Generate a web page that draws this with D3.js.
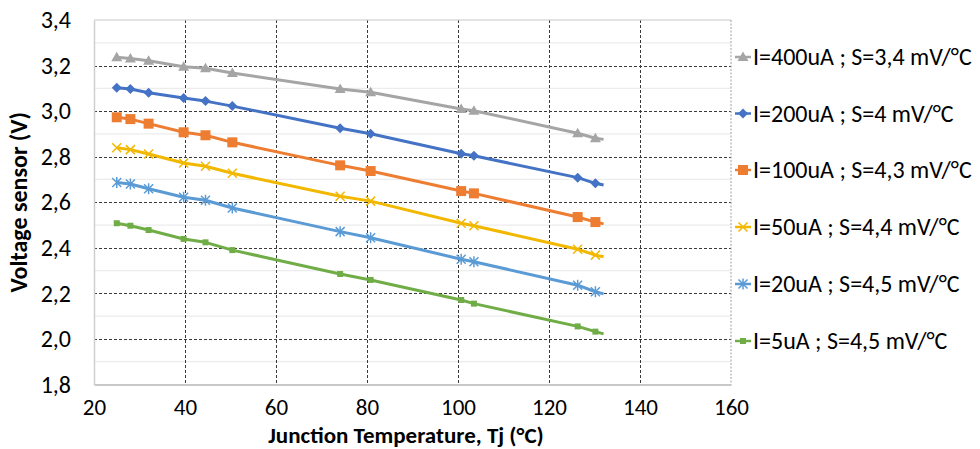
<!DOCTYPE html>
<html>
<head>
<meta charset="utf-8">
<script src="https://cdn.jsdelivr.net/npm/d3@7"></script>
<style>
  html, body { margin: 0; padding: 0; background: #fff; }
  svg { display: block; }
  text { font-family: Carlito, Lato, "Open Sans", sans-serif; fill: #000; }
</style>
</head>
<body>
<svg id="chart" width="980" height="449"></svg>
<script>
// ---- Data ----
// Junction temperatures (°C); the last value is where each drawn line ends (no marker there)
const temps = [25, 28, 32, 39.7, 44.5, 50.4, 74.1, 80.8, 100.7, 103.5, 126.3, 130.2, 132];
const markedPoints = 12;

const seriesNames = [
  "I=400uA ; S=3,4 mV/°C",
  "I=200uA ; S=4 mV/°C",
  "I=100uA ; S=4,3 mV/°C",
  "I=50uA ; S=4,4 mV/°C",
  "I=20uA ; S=4,5 mV/°C",
  "I=5uA ; S=4,5 mV/°C"
];
const v400 = [3.236, 3.231, 3.221, 3.195, 3.188, 3.167, 3.097, 3.083, 3.009, 3.002, 2.903, 2.881, 2.876];
const v200 = [3.103, 3.097, 3.081, 3.058, 3.044, 3.022, 2.925, 2.901, 2.813, 2.804, 2.708, 2.683, 2.676];
const v100 = [2.973, 2.965, 2.945, 2.907, 2.894, 2.863, 2.762, 2.737, 2.649, 2.639, 2.535, 2.513, 2.505];
const v50  = [2.839, 2.831, 2.812, 2.772, 2.758, 2.727, 2.626, 2.605, 2.508, 2.497, 2.394, 2.368, 2.361];
const v20  = [2.687, 2.680, 2.659, 2.622, 2.609, 2.575, 2.471, 2.444, 2.350, 2.339, 2.236, 2.207, 2.198];
const v5   = [2.508, 2.497, 2.478, 2.439, 2.424, 2.390, 2.285, 2.259, 2.171, 2.155, 2.055, 2.032, 2.022];
const seriesValues = [v400, v200, v100, v50, v20, v5];

const xTicks = [20, 40, 60, 80, 100, 120, 140, 160];
const yTicks = [1.8, 2.0, 2.2, 2.4, 2.6, 2.8, 3.0, 3.2, 3.4];
const yMinorTicks = [1.9, 2.1, 2.3, 2.5, 2.7, 2.9, 3.1, 3.3];
const xTitle = "Junction Temperature, Tj (°C)";
const yTitle = "Voltage sensor (V)";

// ---- Style ----
const colors = ["#A5A5A5", "#4472C4", "#ED7D31", "#F2B800", "#5B9BD5", "#70AD47"];
const markerTypes = ["triangle", "diamond", "square", "x", "asterisk", "smallsquare"];

const svg = d3.select("#chart");
const plot = { left: 94, right: 731, top: 20, bottom: 384.5 };

const x = d3.scaleLinear().domain([20, 160]).range([plot.left, plot.right]);
const y = d3.scaleLinear().domain([1.8, 3.4]).range([plot.bottom, plot.top]);

const fmt = d => d3.format(".1f")(d).replace(".", ",");

// minor horizontal gridlines
svg.append("g").selectAll("line").data(yMinorTicks).join("line")
  .attr("x1", plot.left).attr("x2", plot.right)
  .attr("y1", d => y(d)).attr("y2", d => y(d))
  .attr("stroke", "#ececec").attr("stroke-width", 1.2);

// major horizontal dashed gridlines
svg.append("g").selectAll("line").data(yTicks.filter(d => d > 1.8 && d < 3.4)).join("line")
  .attr("x1", plot.left).attr("x2", plot.right)
  .attr("y1", d => Math.round(y(d)) + 0.5).attr("y2", d => Math.round(y(d)) + 0.5)
  .attr("stroke", "#3a3a3a").attr("stroke-width", 1).attr("stroke-dasharray", "3,2");

// vertical dashed gridlines
svg.append("g").selectAll("line").data(xTicks.filter(d => d > 20 && d < 160)).join("line")
  .attr("x1", d => Math.round(x(d)) + 0.5).attr("x2", d => Math.round(x(d)) + 0.5)
  .attr("y1", plot.top).attr("y2", plot.bottom)
  .attr("stroke", "#3a3a3a").attr("stroke-width", 1).attr("stroke-dasharray", "3,2");

// top border & right border
svg.append("line").attr("x1", plot.left).attr("x2", plot.right)
  .attr("y1", y(3.4)).attr("y2", y(3.4)).attr("stroke", "#c8c8c8").attr("stroke-width", 1.2);
svg.append("line").attr("x1", x(160)).attr("x2", x(160))
  .attr("y1", plot.top).attr("y2", plot.bottom)
  .attr("stroke", "#a0a0a0").attr("stroke-width", 1).attr("stroke-dasharray", "2,1.5");

// axes
const xAxis = svg.append("g").attr("transform", `translate(0,${plot.bottom})`)
  .call(d3.axisBottom(x).tickValues(xTicks).tickSize(0).tickPadding(14).tickFormat(d3.format("d")));
xAxis.select(".domain").attr("stroke", "#c8c8c8").attr("stroke-width", 2);
xAxis.selectAll("text").style("font-size", "23px");

const yAxis = svg.append("g").attr("transform", `translate(${plot.left},0)`)
  .call(d3.axisLeft(y).tickValues(yTicks).tickSize(0).tickPadding(23).tickFormat(fmt));
yAxis.select(".domain").attr("stroke", "#d0d0d0").attr("stroke-width", 1.5);
yAxis.selectAll("text").style("font-size", "24px");

// axis titles
svg.append("text").attr("x", 406).attr("y", 443).attr("text-anchor", "middle")
  .style("font-size", "23px").style("font-weight", "bold").text(xTitle);
svg.append("text").attr("transform", `translate(27,${(plot.top + plot.bottom) / 2}) rotate(-90)`)
  .attr("text-anchor", "middle").style("font-size", "24px").style("font-weight", "bold").text(yTitle);

// marker drawing
function drawMarker(g, type, color) {
  if (type === "triangle") {
    g.append("path").attr("d", "M0,-5.5L5.5,4L-5.5,4Z").attr("fill", color);
  } else if (type === "diamond") {
    g.append("path").attr("d", "M0,-5L5,0L0,5L-5,0Z").attr("fill", color);
  } else if (type === "square") {
    g.append("rect").attr("x", -5).attr("y", -5).attr("width", 10).attr("height", 10).attr("fill", color);
  } else if (type === "x") {
    g.append("path").attr("d", "M-4.5,-4.5L4.5,4.5M-4.5,4.5L4.5,-4.5").attr("stroke", color).attr("stroke-width", 1.5).attr("fill", "none");
  } else if (type === "asterisk") {
    g.append("path").attr("d", "M-4.5,-4.5L4.5,4.5M-4.5,4.5L4.5,-4.5M0,-5.5L0,5.5").attr("stroke", color).attr("stroke-width", 1.5).attr("fill", "none");
  } else if (type === "smallsquare") {
    g.append("rect").attr("x", -3).attr("y", -3).attr("width", 6).attr("height", 6).attr("fill", color);
  }
}

const line = d3.line().x(d => x(d[0])).y(d => y(d[1]));

seriesValues.forEach((vals, i) => {
  const pts = temps.map((t, j) => [t, vals[j]]);
  svg.append("path").datum(pts).attr("d", line)
    .attr("fill", "none").attr("stroke", colors[i]).attr("stroke-width", 3)
    .attr("stroke-linejoin", "round");
  pts.slice(0, markedPoints).forEach(p => {
    const g = svg.append("g").attr("transform", `translate(${x(p[0])},${y(p[1])})`);
    drawMarker(g, markerTypes[i], colors[i]);
  });
});

// legend
const legendY = [57, 113.5, 170, 227, 284, 341];
seriesNames.forEach((name, i) => {
  const g = svg.append("g").attr("transform", `translate(743,${legendY[i]})`);
  g.append("line").attr("x1", -8).attr("x2", 8).attr("y1", 0).attr("y2", 0)
    .attr("stroke", colors[i]).attr("stroke-width", 2.5);
  drawMarker(g, markerTypes[i], colors[i]);
  g.append("text").attr("x", 10).attr("y", 0).attr("dy", "0.35em")
    .style("font-size", "24px").text(name);
});
</script>
</body>
</html>
